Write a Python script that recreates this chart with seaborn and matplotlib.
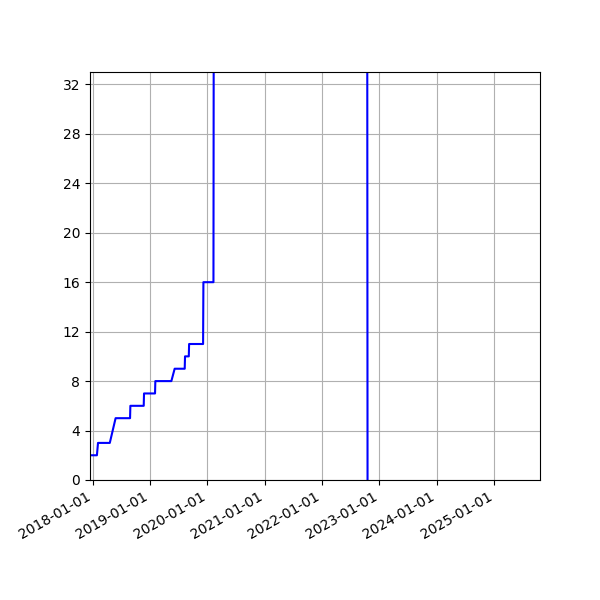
import seaborn as sns
import matplotlib.pyplot as plt
import matplotlib.dates as mdates
import pandas as pd

# cumulative count readings (dates)
dates = ['2017-12-10', '2018-01-28', '2018-02-04', '2018-04-20', '2018-05-27',
         '2018-08-27', '2018-08-29', '2018-11-22', '2018-11-24', '2019-02-02',
         '2019-02-04', '2019-05-17', '2019-06-07', '2019-08-10', '2019-08-12',
         '2019-09-05', '2019-09-07', '2019-12-05', '2019-12-07', '2020-02-09',
         '2020-02-11', '2022-10-15', '2022-10-17']
counts = [2, 2, 3, 3, 5,
          5, 6, 6, 7, 7,
          8, 8, 9, 9, 10,
          10, 11, 11, 16, 16,
          40, 40, 0]

df = pd.DataFrame({'date': pd.to_datetime(dates), 'count': counts})

fig, ax = plt.subplots(figsize=(6, 6), dpi=100)
fig.subplots_adjust(left=0.15, right=0.9, top=0.88, bottom=0.2)

sns.lineplot(data=df, x='date', y='count', color='blue', ax=ax)

ax.set_xlim(pd.Timestamp('2017-12-15'), pd.Timestamp('2025-10-19'))
ax.set_ylim(0, 33)
ax.set_yticks(range(0, 33, 4))
ax.xaxis.set_major_locator(mdates.YearLocator())
ax.xaxis.set_major_formatter(mdates.DateFormatter('%Y-%m-%d'))
ax.set_xlabel('')
ax.set_ylabel('')
ax.grid(True)
fig.autofmt_xdate()
fig.subplots_adjust(left=0.15, right=0.9, top=0.88, bottom=0.2)

plt.savefig('out.png')
